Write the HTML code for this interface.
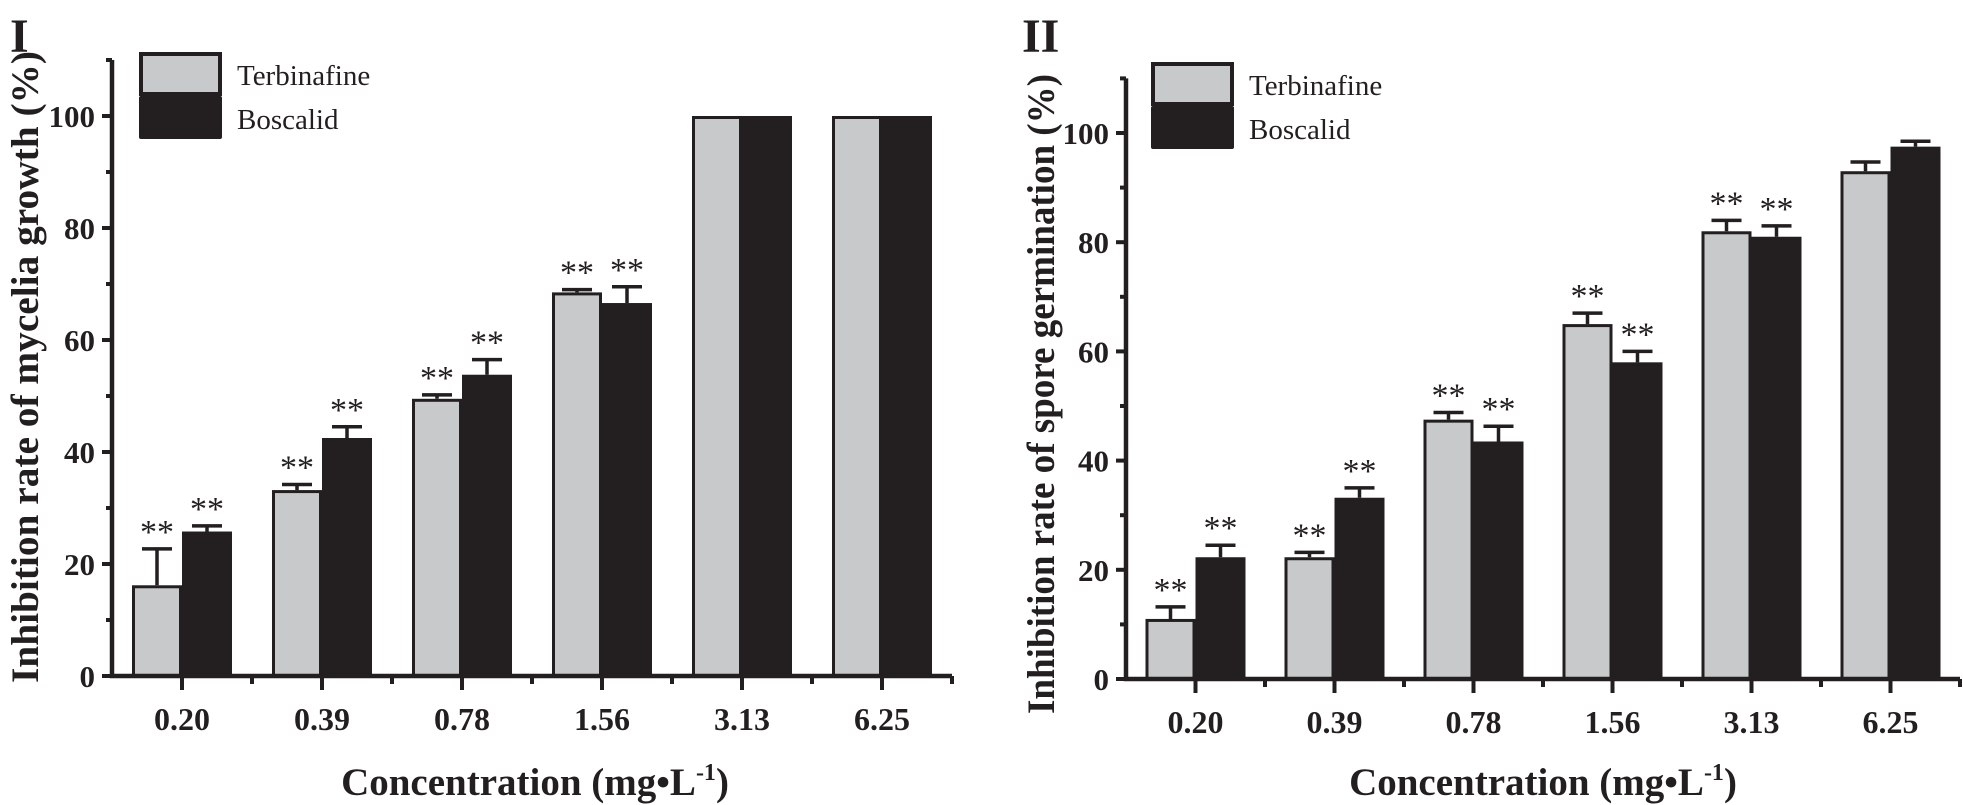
<!DOCTYPE html>
<html><head><meta charset="utf-8"><style>
html,body{margin:0;padding:0;background:#fff;}
svg{display:block;font-family:"Liberation Serif",serif;}
</style></head><body>
<svg id="c" width="1963" height="805" viewBox="0 0 1963 805" xmlns="http://www.w3.org/2000/svg"></svg>
<script>
const categories = ["0.20","0.39","0.78","1.56","3.13","6.25"];
const yTicks = [0,20,40,60,80,100];
const seriesNames = ["Terbinafine","Boscalid"];
const p1Terb = [16.2,33.2,49.5,68.5,100,100];
const p1TerbErr = [6.5,1.0,0.7,0.5,0,0];
const p1Bosc = [25.8,42.5,53.8,66.6,100,100];
const p1BoscErr = [1.0,2.0,2.7,2.9,0,0];
const p1TerbSig = [true,true,true,true,false,false];
const p1BoscSig = [true,true,true,true,false,false];
const p2Terb = [11,22.3,47.5,65,82,93];
const p2TerbErr = [2.2,0.9,1.3,2.0,2.0,1.7];
const p2Bosc = [22.3,33.2,43.5,58,81,97.5];
const p2BoscErr = [2.2,1.8,2.8,2.0,2.0,1.0];
const p2TerbSig = [true,true,true,true,true,false];
const p2BoscSig = [true,true,true,true,true,false];

const svg = document.getElementById('c');
const NS = "http://www.w3.org/2000/svg";
function mk(tag, attrs, parent){const e=document.createElementNS(NS,tag);for(const k in attrs)e.setAttribute(k,attrs[k]);(parent||svg).appendChild(e);return e;}
const GRAY="#c8c9cb", DARK="#231f20";

function panel(cfg){
  const g = mk('g',{});
  
  
  const ymax=110;
  const yS = v => cfg.y0 - v*cfg.ppu;
  const gw = cfg.gw;
  const xC = i => cfg.x0 + gw/2 + i*gw;
  const bw = 50;
  const series=[[cfg.t,cfg.te,cfg.ts,GRAY,-1],[cfg.b,cfg.be,cfg.bs,DARK,0]];
  series.forEach((s,si)=>{
    s[0].forEach((v,i)=>{
      const x = xC(i)+s[4]*bw;
      const r = mk('rect',{x:x+1.5,y:yS(v)+1.5,width:bw-3,height:cfg.y0-yS(v)-1.5,fill:s[3],stroke:DARK,'stroke-width':3},g);
      
      
      const cx = x+bw/2;
      if(s[1][i]>0){
        const e=mk('path',{d:`M${cx} ${yS(v)} V${yS(v+s[1][i])} M${cx-15} ${yS(v+s[1][i])} H${cx+15}`,stroke:DARK,'stroke-width':3.5,fill:'none'},g);
        
        
      }
      if(s[2][i]){
        const t=mk('text',{x:cx,y:yS(v+s[1][i])-6,'text-anchor':'middle','font-size':34,fill:DARK},g);
        t.textContent='**';
        
        
      }
    });
  });
  const xEnd = cfg.x0+gw*6;
  const ax=mk('path',{d:`M${cfg.x0} ${yS(ymax)} V${cfg.y0} H${xEnd}`,stroke:DARK,'stroke-width':4.5,fill:'none'},g);
  
  
  for(let v=0;v<=ymax;v+=10){
    mk('line',{x1:cfg.x0-(v%20===0?10:6),x2:cfg.x0,y1:yS(v),y2:yS(v),stroke:DARK,'stroke-width':4},g);
  }
  yTicks.forEach(v=>{
    const t=mk('text',{x:cfg.x0-17,y:yS(v)+11,'text-anchor':'end','font-size':31,'font-weight':'bold',fill:DARK},g);
    t.textContent=v;
    
    
  });
  for(let i=1;i<=6;i++){
    const xb=cfg.x0+i*gw;
    mk('line',{x1:xb,x2:xb,y1:cfg.y0,y2:cfg.y0+8,stroke:DARK,'stroke-width':4},g);
  }
  categories.forEach((c,i)=>{
    mk('line',{x1:xC(i),x2:xC(i),y1:cfg.y0,y2:cfg.y0+14,stroke:DARK,'stroke-width':4},g);
    const t=mk('text',{x:xC(i),y:cfg.y0+54,'text-anchor':'middle','font-size':32,'font-weight':'bold',fill:DARK},g);
    t.textContent=c;
    
    
  });
  const yt=mk('text',{transform:`translate(${cfg.ytx},${cfg.yty}) rotate(-90)`,'text-anchor':'middle','font-size':39,'font-weight':'bold',fill:DARK,textLength:cfg.ytl,lengthAdjust:'spacingAndGlyphs'},g);
  yt.textContent=cfg.ytitle;
  
  
  const xt=mk('text',{x:cfg.xtx,y:795,'text-anchor':'middle','font-size':39,'font-weight':'bold',fill:DARK},g);
  xt.innerHTML='Concentration (mg•L<tspan dy="-15" font-size="24">-1</tspan><tspan dy="15">)</tspan>';
  
  
  const pl=mk('text',{x:cfg.lx,y:52,'font-size':48,'font-weight':'bold',fill:DARK},g);
  pl.textContent=cfg.label;
  
  
  const L=cfg.leg;
  const lg=mk('g',{},g);
  
  
  mk('rect',{x:L.x+2,y:L.y+2,width:79,height:40,fill:GRAY,stroke:DARK,'stroke-width':4},lg);
  mk('rect',{x:L.x,y:L.y+44,width:83,height:43,fill:DARK,rx:2},lg);
  seriesNames.forEach((n,i)=>{
    const t=mk('text',{x:L.x+98,y:L.y+33+i*44,'font-size':29,fill:DARK},lg);
    t.textContent=n;
    
    
  });
}
panel({name:'panel-mycelia',x0:112,y0:676,ppu:5.6,gw:140,t:p1Terb,te:p1TerbErr,ts:p1TerbSig,b:p1Bosc,be:p1BoscErr,bs:p1BoscSig,
  ytitle:'Inhibition rate of mycelia growth (%)',ytx:38,yty:367,ytl:632,xtx:535,label:'I',lx:10,leg:{x:139,y:52}});
panel({name:'panel-spore',x0:1126,y0:679,ppu:5.46,gw:139,t:p2Terb,te:p2TerbErr,ts:p2TerbSig,b:p2Bosc,be:p2BoscErr,bs:p2BoscSig,
  ytitle:'Inhibition rate of spore germination (%)',ytx:1054,yty:394,ytl:640,xtx:1543,label:'II',lx:1022,leg:{x:1151,y:62}});
</script>
</body></html>
